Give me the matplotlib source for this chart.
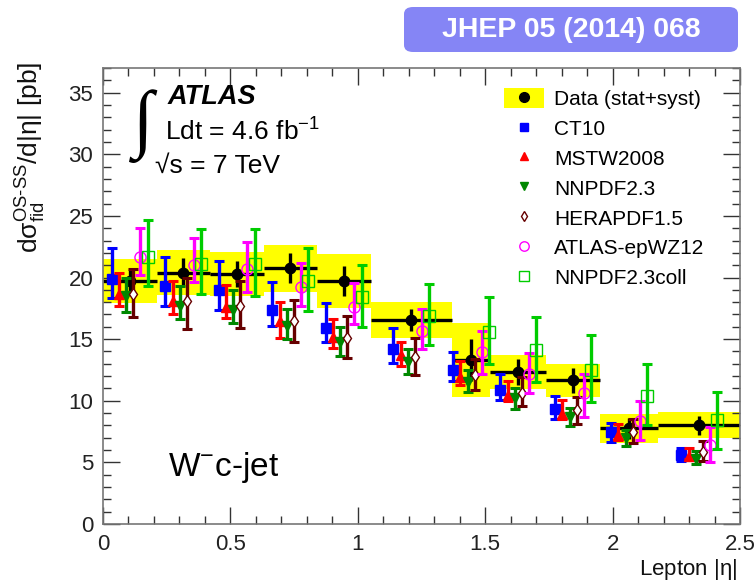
import matplotlib
matplotlib.use("Agg")
import matplotlib.pyplot as plt
import numpy as np
from matplotlib.patches import Patch, FancyBboxPatch
from matplotlib.lines import Line2D

plt.rcParams['font.family'] = ['Liberation Sans', 'DejaVu Sans']
plt.rcParams['mathtext.fontset'] = 'custom'
plt.rcParams['mathtext.rm'] = 'Liberation Sans'
plt.rcParams['mathtext.it'] = 'Liberation Sans:italic'
plt.rcParams['mathtext.bf'] = 'Liberation Sans:bold'

# ---------------- data ----------------
bin_edges = [0.0, 0.21, 0.42, 0.63, 0.84, 1.05, 1.37, 1.52, 1.74, 1.95, 2.18, 2.5]

data_val = [19.7, 20.4, 20.3, 20.75, 19.7, 16.55, 13.3, 12.35, 11.65, 7.75, 8.0]
data_stat = [1.0, 1.15, 1.05, 1.2, 1.2, 0.9, 1.7, 1.05, 1.0, 0.87, 0.8]
data_tot = [1.8, 1.85, 1.8, 1.9, 2.2, 1.45, 3.0, 1.4, 1.35, 1.2, 1.05]

ct10 = [19.9, 19.3, 18.95, 17.4, 15.9, 14.2, 12.5, 10.85, 9.3, 7.5, 5.6]
ct10_hi = [22.4, 21.65, 21.3, 19.6, 17.95, 15.9, 13.95, 12.2, 10.35, 8.2, 6.2]
ct10_lo = [18.35, 17.7, 17.4, 16.1, 14.8, 13.1, 11.6, 10.05, 8.5, 6.65, 5.1]

mstw = [18.7, 18.1, 17.6, 16.5, 15.2, 13.7, 11.9, 10.45, 8.95, 7.2, 5.5]
mstw_hi = [20.35, 19.7, 19.4, 18.05, 16.6, 14.8, 13.2, 11.6, 10.05, 8.1, 6.2]
mstw_lo = [17.65, 17.05, 16.7, 15.1, 14.3, 12.8, 11.3, 10.0, 8.5, 6.8, 5.25]

nnpdf = [18.5, 17.7, 17.4, 16.1, 14.8, 13.15, 11.5, 10.2, 8.7, 6.95, 5.3]
nnpdf_hi = [20.0, 19.35, 19.0, 17.45, 16.0, 14.2, 12.5, 11.0, 9.45, 7.65, 5.9]
nnpdf_lo = [17.2, 16.6, 16.3, 15.0, 13.6, 12.2, 10.7, 9.3, 7.95, 6.3, 4.85]

hera = [18.7, 18.1, 17.7, 16.5, 15.1, 13.55, 12.05, 10.65, 9.25, 7.5, 5.85]
hera_hi = [20.7, 20.0, 19.75, 18.2, 16.85, 15.1, 13.4, 11.9, 10.3, 8.55, 6.75]
hera_lo = [16.8, 15.85, 15.9, 14.8, 13.5, 12.1, 10.85, 9.55, 8.15, 6.6, 5.1]

epwz = [21.7, 21.05, 20.7, 19.2, 17.6, 15.7, 13.95, 12.2, 10.6, 8.35, 6.4]
epwz_hi = [24.0, 23.2, 22.9, 21.2, 19.55, 17.45, 15.7, 13.9, 12.2, 9.95, 7.9]
epwz_lo = [20.2, 19.6, 18.8, 17.65, 16.2, 14.2, 12.2, 10.65, 8.7, 6.8, 5.05]

coll = [21.7, 21.1, 21.1, 19.7, 18.4, 16.9, 15.6, 14.1, 12.5, 10.4, 8.4]
coll_hi = [24.7, 23.9, 23.9, 22.4, 21.0, 19.5, 18.45, 16.8, 15.3, 12.95, 10.75]
coll_lo = [19.3, 18.7, 18.5, 17.3, 16.0, 14.5, 13.0, 11.5, 9.9, 8.0, 6.1]

labels = ["Data (stat+syst)", "CT10", "MSTW2008", "NNPDF2.3", "HERAPDF1.5",
          "ATLAS-epWZ12", "NNPDF2.3coll"]

# ---------------- figure ----------------
W, H = 756, 585
fig = plt.figure(figsize=(W / 100, H / 100), dpi=100)
ax = fig.add_axes([103 / W, 61 / H, 637 / W, 456 / H])

edges = np.array(bin_edges)
lo_e = edges[:-1]
widths = np.diff(edges)
centers = lo_e + widths / 2
dv = np.array(data_val)
dt = np.array(data_tot)

ax.bar(lo_e, 2 * dt, width=widths, bottom=dv - dt, align='edge',
       color='#ffff00', edgecolor='none', zorder=1)
ax.errorbar(centers, dv, xerr=widths / 2, yerr=data_stat, fmt='o', color='black',
            ms=7.5, elinewidth=2.4, capsize=0, zorder=2)

series = [
    (ct10, ct10_hi, ct10_lo, dict(marker='s', color='#0000ff', mfc='#0000ff', mec='#0000ff', ms=6.5)),
    (mstw, mstw_hi, mstw_lo, dict(marker='^', color='#ff0000', mfc='#ff0000', mec='#ff0000', ms=7)),
    (nnpdf, nnpdf_hi, nnpdf_lo, dict(marker='v', color='#008800', mfc='#008800', mec='#008800', ms=7)),
    (hera, hera_hi, hera_lo, dict(marker='d', color='#660000', mfc='white', mec='#660000', ms=6, mew=1.0)),
    (epwz, epwz_hi, epwz_lo, dict(marker='o', color='#ff00ff', mfc='none', mec='#ff00ff', ms=8, mew=1.0)),
    (coll, coll_hi, coll_lo, dict(marker='s', color='#00cc00', mfc='none', mec='#00cc00', ms=8, mew=1.0)),
]
offsets = [-0.07, -0.042, -0.014, 0.014, 0.042, 0.07]
for k, ((v, hi, lo, st), off) in enumerate(zip(series, offsets)):
    v = np.array(v); hi = np.array(hi); lo = np.array(lo)
    ax.errorbar(centers + off, v, yerr=[v - lo, hi - v], fmt='none',
                ecolor=st['color'], elinewidth=2.4, capsize=3.6, capthick=2.2,
                zorder=3 + k)
    ax.plot(centers + off, v, ls='none', marker=st['marker'], mfc=st['mfc'],
            mec=st['mec'], ms=st['ms'], mew=st.get('mew', 1.0), zorder=3.5 + k)

ax.set_xlim(0, 2.5)
ax.set_ylim(0, 37)
ax.set_xticks(np.arange(0, 2.51, 0.5))
ax.set_xticklabels(['0', '0.5', '1', '1.5', '2', '2.5'])
ax.set_xticks(np.arange(0, 2.501, 0.1), minor=True)
ax.set_yticks(np.arange(0, 36, 5))
ax.set_yticks(np.arange(0, 37.01, 1), minor=True)
ax.tick_params(which='both', direction='in', top=True, right=True,
               colors='#333333', labelcolor='#222222', labelsize=16)
ax.tick_params(which='major', length=12, width=1.0, pad=7)
ax.tick_params(which='minor', length=6, width=1.0)
for s in ax.spines.values():
    s.set_color('#777777')
    s.set_linewidth(1.2)

# axis labels
fig.text(31 / W, 1 - 62 / H, r'd$\mathrm{\sigma}^{\mathrm{OS}\text{-}\mathrm{SS}}_{\mathrm{fid}}$/d|$\mathrm{\eta}$| [pb]',
         rotation=90, ha='center', va='top', fontsize=19, color='#111111')
fig.text(737 / W, 1 - 570 / H, r'Lepton |$\mathrm{\eta}$|', ha='right', va='center',
         fontsize=16, color='#111111')

# ATLAS label
ax.text(0.102, 0.921, 'ATLAS', transform=ax.transAxes, fontsize=19.5,
        fontweight='bold', fontstyle='italic', va='baseline', ha='left')
ax.text(0.047, 0.835, '\u222b', transform=ax.transAxes, fontsize=54,
        family=['Liberation Serif', 'DejaVu Sans'], va='baseline', ha='left')
ax.text(0.097, 0.84, r'Ldt = 4.6 fb$^{\mathrm{-1}}$', transform=ax.transAxes,
        fontsize=19, va='baseline', ha='left')
ax.text(0.082, 0.77, '\u221as = 7 TeV', transform=ax.transAxes,
        fontsize=19, va='baseline', ha='left')

ax.text(0.102, 0.105, r'W$^{\mathrm{-}}$c-jet', transform=ax.transAxes,
        fontsize=24, va='baseline', ha='left')

# legend
handles = [(Patch(facecolor='#ffff00', edgecolor='none'),
            Line2D([], [], ls='none', marker='o', color='black', ms=7))]
for v, hi, lo, st in series:
    handles.append(Line2D([], [], ls='none', marker=st['marker'], mfc=st['mfc'],
                          mec=st['mec'], ms=st['ms'] * 0.85, mew=st.get('mew', 1.0)))
leg = ax.legend(handles, labels, loc='upper left', bbox_to_anchor=(0.617, 0.974),
                frameon=False, fontsize=15, handlelength=1.9, handleheight=1.1,
                handletextpad=0.5, labelspacing=0.42, borderaxespad=0)

# header box
fig.patches.append(FancyBboxPatch((404 / W, 1 - 52 / H), 334 / W, 45 / H,
                                  boxstyle='round,pad=0,rounding_size=0.012',
                                  transform=fig.transFigure, facecolor='#8585f5',
                                  edgecolor='none'))
fig.text(571 / W, 1 - 30 / H, 'JHEP 05 (2014) 068', ha='center', va='center',
         fontsize=20.5, fontweight='bold', color='white')

fig.savefig('out.png', dpi=100)
